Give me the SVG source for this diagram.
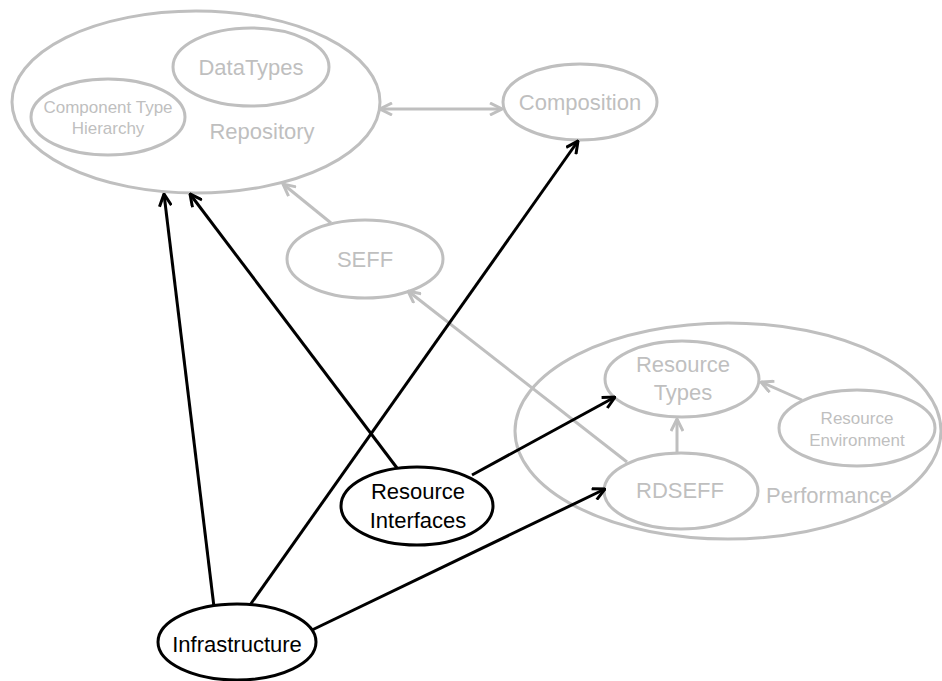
<svg xmlns="http://www.w3.org/2000/svg" width="942" height="681" viewBox="0 0 942 681">
  <style>
    .g { fill: none; stroke: #bfbfbf; stroke-width: 3; }
    .k { fill: #ffffff; stroke: #000000; stroke-width: 3; }
    .gl { fill: none; stroke: #bfbfbf; stroke-width: 3; }
    .kl { fill: none; stroke: #000000; stroke-width: 3; }
    text { font-family: "Liberation Sans", Arial, sans-serif; text-anchor: middle; }
    .tg { fill: #bfbfbf; font-size: 22px; }
    .ts { fill: #bfbfbf; font-size: 17px; }
    .tk { fill: #000000; font-size: 22px; }
  </style>
  <defs>
    <marker id="ag" viewBox="0 0 14 14" refX="13" refY="7" markerWidth="14" markerHeight="14" markerUnits="userSpaceOnUse" orient="auto-start-reverse">
      <path d="M1,1 L13,7 L1,13" fill="none" stroke="#bfbfbf" stroke-width="3"/>
    </marker>
    <marker id="ak" viewBox="0 0 14 14" refX="13" refY="7" markerWidth="14" markerHeight="14" markerUnits="userSpaceOnUse" orient="auto">
      <path d="M1,1 L13,7 L1,13" fill="none" stroke="#000000" stroke-width="3"/>
    </marker>
  </defs>

  <!-- containers and package nodes -->
  <g id="repository">
    <ellipse class="g" cx="196" cy="102" rx="184" ry="91"/>
    <text class="tg" x="262" y="139">Repository</text>
  </g>
  <g id="datatypes">
    <ellipse class="g" cx="251" cy="67" rx="78" ry="39"/>
    <text class="tg" x="251" y="75" font-size="21">DataTypes</text>
  </g>
  <g id="component-type-hierarchy">
    <ellipse class="g" cx="108" cy="117" rx="77" ry="38"/>
    <text class="ts" x="108" y="113">Component Type</text>
    <text class="ts" x="108" y="134">Hierarchy</text>
  </g>
  <g id="composition">
    <ellipse class="g" cx="580" cy="102" rx="77" ry="38"/>
    <text class="tg" x="580" y="110">Composition</text>
  </g>
  <g id="seff">
    <ellipse class="g" cx="365" cy="259" rx="78" ry="39"/>
    <text class="tg" x="365" y="267" font-size="19">SEFF</text>
  </g>
  <g id="performance">
    <ellipse class="g" cx="728" cy="431" rx="213" ry="108"/>
    <text class="tg" x="829" y="503">Performance</text>
  </g>
  <g id="resource-types">
    <ellipse class="g" cx="682" cy="379" rx="77" ry="38"/>
    <text class="tg" x="683" y="372" font-size="21">Resource</text>
    <text class="tg" x="683" y="400" font-size="21">Types</text>
  </g>
  <g id="resource-environment">
    <ellipse class="g" cx="857" cy="428" rx="78" ry="38"/>
    <text class="ts" x="857" y="424">Resource</text>
    <text class="ts" x="857" y="446">Environment</text>
  </g>
  <g id="rdseff">
    <ellipse class="g" cx="681" cy="491" rx="77" ry="38"/>
    <text class="tg" x="680" y="498" font-size="19">RDSEFF</text>
  </g>

  <!-- dependencies -->
  <g id="connectors">
    <line class="gl" x1="380" y1="109" x2="502" y2="109" marker-start="url(#ag)" marker-end="url(#ag)"/>
    <line class="gl" x1="331" y1="223" x2="283" y2="184" marker-end="url(#ag)"/>
    <line class="gl" x1="627" y1="462" x2="408" y2="291" marker-end="url(#ag)"/>
    <line class="gl" x1="677" y1="453" x2="677" y2="419" marker-end="url(#ag)"/>
    <line class="gl" x1="802" y1="400" x2="761" y2="382" marker-end="url(#ag)"/>

    <line class="kl" x1="214" y1="607" x2="164" y2="194" marker-end="url(#ak)"/>
    <line class="kl" x1="250" y1="605" x2="578" y2="141" marker-end="url(#ak)"/>
    <line class="kl" x1="397" y1="468" x2="190" y2="194" marker-end="url(#ak)"/>
    <line class="kl" x1="472" y1="475" x2="615" y2="397" marker-end="url(#ak)"/>
    <line class="kl" x1="312" y1="630" x2="605" y2="489" marker-end="url(#ak)"/>
  </g>

  <g id="resource-interfaces">
    <ellipse class="k" cx="417" cy="506" rx="76" ry="39"/>
    <text class="tk" x="418" y="499">Resource</text>
    <text class="tk" x="418" y="528">Interfaces</text>
  </g>
  <g id="infrastructure">
    <ellipse class="k" cx="237" cy="642" rx="79" ry="38"/>
    <text class="tk" x="237" y="652" font-size="23">Infrastructure</text>
  </g>
</svg>
